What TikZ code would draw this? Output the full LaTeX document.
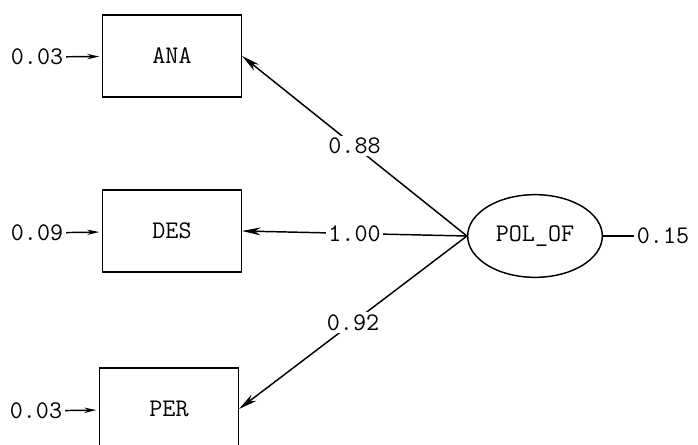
\documentclass[tikz,border=0pt]{standalone}
\usetikzlibrary{shapes.geometric,arrows.meta}

\begin{document}
\begin{tikzpicture}[x=0.75pt,y=-0.75pt,
		font=\ttfamily\fontsize{19}{21}\selectfont,
		obs/.style={draw,line width=1.1pt,minimum width=104pt,minimum height=61.5pt},
		lat/.style={draw,ellipse,line width=1.1pt,minimum width=101pt,minimum height=62pt,inner sep=0pt},
		load/.style={line width=1.1pt,-{Stealth[length=14pt,width=6pt]}},
		err/.style={line width=1.1pt,-{Stealth[length=9pt,width=4pt]},shorten >=2pt},
		coef/.style={fill=white,inner sep=1.5pt}]
		\useasboundingbox (0,0) rectangle (698,445);
		\node[obs] (ana) at (172,56) {ANA};
		\node[obs] (des) at (172,231) {DES};
		\node[obs] (per) at (169,409) {PER};
		\node[lat] (pol) at (535,236) {POL\_OF};
		\node[inner sep=2pt] (eana) at (37,57) {0.03};
		\node[inner sep=2pt] (edes) at (37,233) {0.09};
		\node[inner sep=2pt] (eper) at (36,411) {0.03};
		\node[inner sep=2pt] (epol) at (663,236) {0.15};
		\draw[err] (eana) -- (ana);
		\draw[err] (edes) -- (des);
		\draw[err] (eper) -- (per);
		\draw[line width=1.1pt] (pol) -- (epol);
		\draw[load] (pol.west) -- node[coef]{0.88} (ana.east);
		\draw[load] (pol.west) -- node[coef]{1.00} (des.east);
		\draw[load] (pol.west) -- node[coef]{0.92} (per.east);
	\end{tikzpicture}
\end{document}
